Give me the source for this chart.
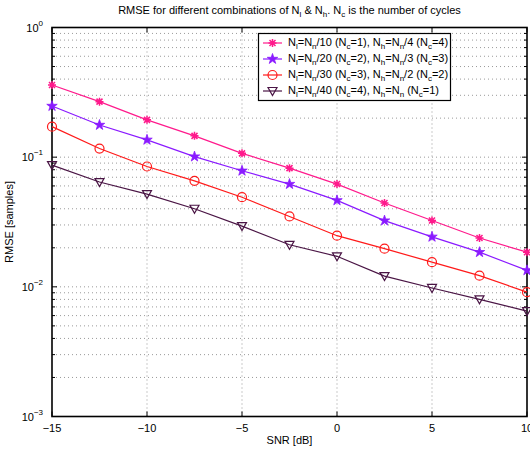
<!DOCTYPE html>
<html>
<head>
<meta charset="utf-8">
<script src="https://cdn.jsdelivr.net/npm/d3@7"></script>
<style>
  body { margin: 0; background: #fff; }
  svg { font-family: "Liberation Sans", Arial, sans-serif; }
</style>
</head>
<body>
<div id="chart"></div>
<script>
// data
const snr = [-15, -12.5, -10, -7.5, -5, -2.5, 0, 2.5, 5, 7.5, 10];
const rmseNc1 = [0.360, 0.268, 0.194, 0.146, 0.107, 0.0823, 0.0620, 0.0443, 0.0325, 0.0238, 0.0185];
const rmseNc2 = [0.248, 0.177, 0.136, 0.101, 0.0785, 0.0620, 0.0464, 0.0324, 0.0243, 0.0185, 0.0134];
const rmseNc3 = [0.172, 0.1165, 0.0847, 0.0657, 0.0491, 0.0349, 0.0248, 0.0197, 0.0155, 0.0122, 0.0091];
const rmseNc4 = [0.0868, 0.0643, 0.0519, 0.0400, 0.0294, 0.0211, 0.0172, 0.0121, 0.0098, 0.0080, 0.0065];
const seriesLabels = [
	'N_l=N_n/10 (N_c=1), N_h=N_n/4 (N_c=4)',
	'N_l=N_n/20 (N_c=2), N_h=N_n/3 (N_c=3)',
	'N_l=N_n/30 (N_c=3), N_h=N_n/2 (N_c=2)',
	'N_l=N_n/40 (N_c=4), N_h=N_n (N_c=1)',
];
const xTicks = [-15, -10, -5, 0, 5, 10];
const yDecades = [0, -1, -2, -3];

const series = [
	{ values: rmseNc1, color: '#ff1a8c', marker: 'asterisk' },
	{ values: rmseNc2, color: '#8a1aff', marker: 'star' },
	{ values: rmseNc3, color: '#ff1a1a', marker: 'circle' },
	{ values: rmseNc4, color: '#4a1545', marker: 'triangle' },
];
series.forEach((s, i) => (s.label = seriesLabels[i]));

const width = 530;
const height = 453;
const margin = { top: 27, right: 3, bottom: 36, left: 52 };

const svg = d3
	.select('#chart')
	.append('svg')
	.attr('width', width)
	.attr('height', height);

const x = d3
	.scaleLinear()
	.domain([-15, 10])
	.range([margin.left, width - margin.right]);

const y = d3
	.scaleLog()
	.domain([0.001, 1])
	.range([height - margin.bottom - 0.5, margin.top + 0.5]);

const x0 = x.range()[0];
const x1 = x.range()[1];
const y0 = y.range()[0];
const y1 = y.range()[1];

// grid
const minorVals = [];
for (let d = -3; d < 0; d++) {
	for (let k = 1; k <= 9; k++) minorVals.push(k * Math.pow(10, d));
}
const grid = svg.append('g').attr('stroke', '#555').attr('stroke-width', 0.6).attr('stroke-dasharray', '1,3');
grid
	.selectAll('.hgrid')
	.data(minorVals.filter((v) => v > 0.001))
	.join('line')
	.attr('x1', x0)
	.attr('x2', x1)
	.attr('y1', (d) => y(d))
	.attr('y2', (d) => y(d));
grid
	.selectAll('.vgrid')
	.data(xTicks.slice(1, -1))
	.join('line')
	.attr('x1', (d) => x(d))
	.attr('x2', (d) => x(d))
	.attr('y1', y0)
	.attr('y2', y1);

// ticks (inward, all four sides)
const ticks = svg.append('g').attr('stroke', '#000').attr('stroke-width', 1);
xTicks.forEach((t) => {
	ticks.append('line').attr('x1', x(t)).attr('x2', x(t)).attr('y1', y0).attr('y2', y0 - 5);
	ticks.append('line').attr('x1', x(t)).attr('x2', x(t)).attr('y1', y1).attr('y2', y1 + 5);
});
minorVals.forEach((v) => {
	const len = Math.abs(Math.log10(v) - Math.round(Math.log10(v))) < 1e-9 ? 5 : 3;
	ticks.append('line').attr('x1', x0).attr('x2', x0 + len).attr('y1', y(v)).attr('y2', y(v));
	ticks.append('line').attr('x1', x1).attr('x2', x1 - len).attr('y1', y(v)).attr('y2', y(v));
});

// box
svg
	.append('rect')
	.attr('x', x0)
	.attr('y', y1)
	.attr('width', x1 - x0)
	.attr('height', y0 - y1)
	.attr('fill', 'none')
	.attr('stroke', '#000')
	.attr('stroke-width', 1.6);

// tick labels
svg
	.append('g')
	.selectAll('text')
	.data(xTicks)
	.join('text')
	.attr('x', (d) => x(d))
	.attr('y', y0 + 15)
	.attr('text-anchor', 'middle')
	.style('font-size', '11px')
	.text((d) => (d < 0 ? '\u2212' + Math.abs(d) : d));

const yLab = svg
	.append('g')
	.selectAll('text')
	.data(yDecades)
	.join('text')
	.attr('x', x0 - 9)
	.attr('y', (d) => y(Math.pow(10, d)) + 4)
	.attr('text-anchor', 'end')
	.style('font-size', '11px');
yLab.append('tspan').text('10');
yLab
	.append('tspan')
	.attr('dy', -6)
	.style('font-size', '8px')
	.text((d) => (d < 0 ? '\u2212' + Math.abs(d) : d));

// text with subscripts
function subText(sel, str, size) {
	const parts = str.split(/(_\w)/);
	let sub = false;
	parts.forEach((p) => {
		if (!p) return;
		if (p[0] === '_') {
			sel.append('tspan').attr('dy', sub ? 0 : 3).style('font-size', size - 3 + 'px').text(p[1]);
			sub = true;
		} else {
			sel.append('tspan').attr('dy', sub ? -3 : 0).text(p);
			sub = false;
		}
	});
}

const title = svg
	.append('text')
	.attr('x', (x0 + x1) / 2)
	.attr('y', 14)
	.attr('text-anchor', 'middle')
	.style('font-size', '11px');
subText(title, 'RMSE for different combinations of N_l & N_h. N_c is the number of cycles', 11);

svg
	.append('text')
	.attr('x', (x0 + x1) / 2)
	.attr('y', 444)
	.attr('text-anchor', 'middle')
	.style('font-size', '11px')
	.text('SNR [dB]');

svg
	.append('text')
	.attr('transform', `translate(13,${(y0 + y1) / 2}) rotate(-90)`)
	.attr('text-anchor', 'middle')
	.style('font-size', '11px')
	.text('RMSE [samples]');

// markers
function drawMarker(g, type, color) {
	if (type === 'asterisk') {
		g.append('path')
			.attr('d', 'M-4,0H4M0,-4V4M-3,-3L3,3M-3,3L3,-3')
			.attr('stroke', color)
			.attr('stroke-width', 1.5);
		g.append('circle').attr('r', 1.8).attr('fill', color);
	} else if (type === 'star') {
		g.append('path')
			.attr('d', d3.symbol(d3.symbolStar, 34)())
			.attr('fill', color)
			.attr('stroke', color)
			.attr('stroke-width', 0.8);
	} else if (type === 'circle') {
		g.append('circle').attr('r', 4.5).attr('fill', 'none').attr('stroke', color).attr('stroke-width', 1.2);
	} else {
		g.append('path').attr('d', 'M-4.5,-3.5H4.5L0,4.5Z').attr('fill', 'none').attr('stroke', color).attr('stroke-width', 1.2);
	}
}

const line = d3
	.line()
	.x((d, i) => x(snr[i]))
	.y((d) => y(d));

series.forEach((s) => {
	svg
		.append('path')
		.datum(s.values)
		.attr('d', line)
		.attr('fill', 'none')
		.attr('stroke', s.color)
		.attr('stroke-width', 1.2);
	s.values.forEach((v, i) => {
		const g = svg.append('g').attr('transform', `translate(${x(snr[i])},${y(v)})`);
		drawMarker(g, s.marker, s.color);
	});
});

// legend
const legend = svg.append('g');
legend
	.append('rect')
	.attr('x', 258.5)
	.attr('y', 33.5)
	.attr('width', 192)
	.attr('height', 67)
	.attr('fill', '#fff')
	.attr('stroke', '#000')
	.attr('stroke-width', 1.2);
series.forEach((s, i) => {
	const ly = 43 + i * 16;
	legend
		.append('line')
		.attr('x1', 263)
		.attr('x2', 282)
		.attr('y1', ly)
		.attr('y2', ly)
		.attr('stroke', s.color)
		.attr('stroke-width', 1.2);
	drawMarker(legend.append('g').attr('transform', `translate(272.5,${ly})`), s.marker, s.color);
	const t = legend.append('text').attr('x', 288).attr('y', ly + 3).style('font-size', '11px');
	subText(t, s.label, 11);
});
</script>
</body>
</html>
